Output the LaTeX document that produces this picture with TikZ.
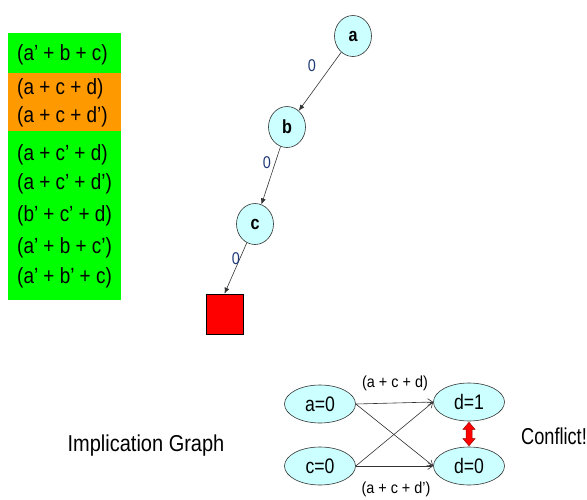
\documentclass[tikz,border=0pt]{standalone}
\usepackage{fontspec}
\setmainfont{Liberation Sans}
\usetikzlibrary{arrows.meta,shapes.geometric,calc}
\definecolor{cgreen}{HTML}{00FF00}
\definecolor{corange}{HTML}{FF9900}
\definecolor{ccyan}{HTML}{CCFFFF}
\definecolor{cedge}{HTML}{333333}
\definecolor{clabel}{HTML}{1F3A78}
\newcommand{\narrow}[2]{\scalebox{#1}[1]{#2}}
\tikzset{
  clause/.style={anchor=west,inner sep=0pt,font=\fontsize{22}{22}\selectfont},
  treenode/.style={ellipse,draw=cedge,fill=ccyan,line width=0.6pt,minimum width=37pt,minimum height=41pt,inner sep=0pt,font=\fontsize{19}{19}\selectfont\bfseries},
  impnode/.style={ellipse,draw=cedge,fill=ccyan,line width=0.6pt,minimum width=71pt,minimum height=38pt,inner sep=0pt,font=\fontsize{21}{21}\selectfont},
  treeedge/.style={draw=cedge,line width=0.6pt,-{Latex[length=6pt,width=5pt]}},
  impedge/.style={draw=cedge,line width=0.6pt,-{Straight Barb[length=5pt,width=7pt]}},
  zlabel/.style={text=clabel,font=\fontsize{17}{17}\selectfont},
  elabel/.style={font=\fontsize{16}{16}\selectfont,inner sep=0pt},
  bigtext/.style={font=\fontsize{23}{23}\selectfont,inner sep=0pt}
}
\begin{document}
\begin{tikzpicture}[x=1pt,y=-1pt]
\useasboundingbox (0,0) rectangle (587,499);
% clause boxes
\fill[cgreen] (8,33) rectangle (121,73);
\fill[corange] (8,73) rectangle (121,131);
\fill[cgreen] (8,131) rectangle (121,300);
\node[clause] (c1) at (17,55) {\narrow{0.86}{(a’ + b + c)}};
\node[clause] (c2) at (17,89) {\narrow{0.86}{(a + c + d)}};
\node[clause] (c3) at (17,117) {\narrow{0.86}{(a + c + d’)}};
\node[clause] (c4) at (17,155) {\narrow{0.86}{(a + c’ + d)}};
\node[clause] (c5) at (17,184) {\narrow{0.86}{(a + c’ + d’)}};
\node[clause] (c6) at (17,216) {\narrow{0.86}{(b’ + c’ + d)}};
\node[clause] (c7) at (17,248) {\narrow{0.86}{(a’ + b + c’)}};
\node[clause] (c8) at (17,278) {\narrow{0.86}{(a’ + b’ + c)}};
% decision tree
\node[treenode] (a) at (353,36) {\narrow{0.85}{a}};
\node[treenode] (b) at (287,127) {\narrow{0.85}{b}};
\node[treenode] (c) at (255,224) {\narrow{0.85}{c}};
\node[draw=black,fill=red,line width=0.6pt,minimum width=37pt,minimum height=40pt,inner sep=0pt] (sq) at (224.5,314) {};
\draw[treeedge] (a) -- (b);
\draw[treeedge] (b) -- (c);
\draw[treeedge] (c) -- (sq.north);
\node[zlabel] (z1) at (312,66) {\narrow{0.85}{0}};
\node[zlabel] (z2) at (267,163) {\narrow{0.85}{0}};
\node[zlabel] (z3) at (236,259) {\narrow{0.85}{0}};
% implication graph
\node[impnode] (a0) at (320,404) {\narrow{0.84}{a=0}};
\node[impnode] (c0) at (320,466) {\narrow{0.84}{c=0}};
\node[impnode] (d1) at (469,402) {\narrow{0.84}{d=1}};
\node[impnode] (d0) at (469,466) {\narrow{0.84}{d=0}};
\draw[impedge] (a0.east) -- (d1.west);
\draw[impedge] (a0.east) -- (d0.west);
\draw[impedge] (c0.east) -- (d1.west);
\draw[impedge] (c0.east) -- (d0.west);
\node[elabel] (l1) at (395,383) {\narrow{0.9}{(a + c + d)}};
\node[elabel] (l2) at (396,489) {\narrow{0.9}{(a + c + d’)}};
% red double block arrow between d=1 and d=0
\coordinate (ct) at ($(d1.south)+(0,1)$);
\coordinate (cb) at ($(d0.north)+(0,-1)$);
\draw[fill=red,draw=red!60!black,line width=0.5pt]
  (ct) -- ($(ct)+(6,7)$) -- ($(ct)+(3,7)$) -- ($(cb)+(3,-7)$) -- ($(cb)+(6,-7)$) -- (cb)
  -- ($(cb)+(-6,-7)$) -- ($(cb)+(-3,-7)$) -- ($(ct)+(-3,7)$) -- ($(ct)+(-6,7)$) -- cycle;
\node[bigtext,anchor=west] (conf) at (521,436) {\narrow{0.79}{Conflict!}};
\node[bigtext] (ig) at (146,446) {\narrow{0.87}{Implication Graph}};
\end{tikzpicture}
\end{document}
